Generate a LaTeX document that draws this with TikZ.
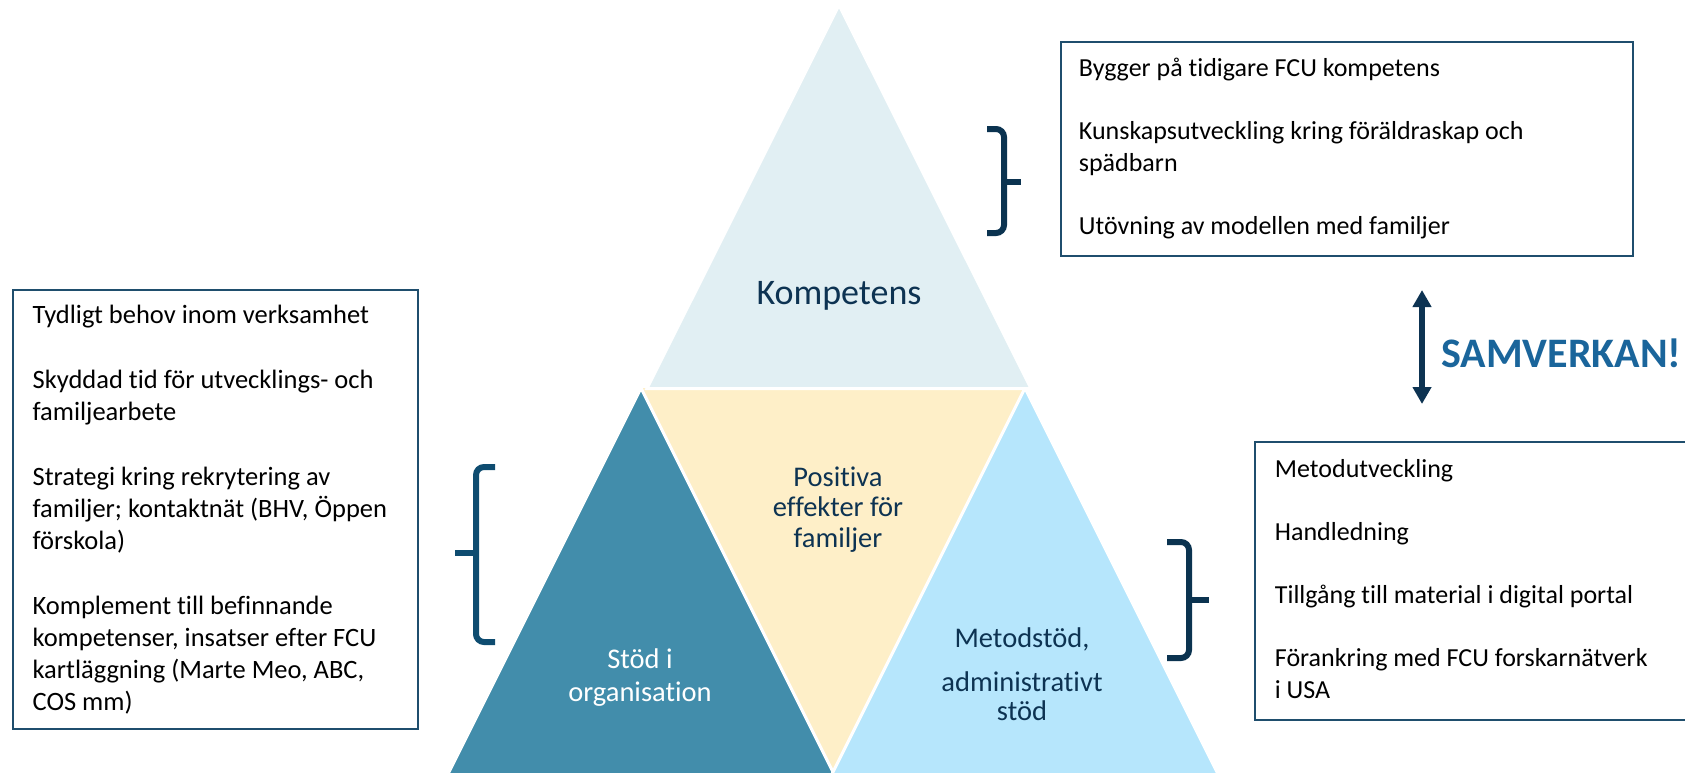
\documentclass[tikz,border=0pt]{standalone}
\usepackage{fontspec}
\setmainfont{Carlito}[Ligatures=NoCommon]
\usetikzlibrary{arrows.meta}
\definecolor{topfill}{HTML}{E1EFF3}
\definecolor{darkfill}{HTML}{428DAB}
\definecolor{yellowfill}{HTML}{FEEFC8}
\definecolor{lightfill}{HTML}{B6E6FC}
\definecolor{navy}{HTML}{0D3352}
\definecolor{boxblue}{HTML}{1F4E6D}
\definecolor{samblue}{HTML}{1A659B}
\definecolor{bracenavy}{HTML}{0B3350}
\definecolor{braceblue}{HTML}{0E4C70}
\newcommand\infotext[5]{\parbox[t][#2][t]{#1}{\leftskip=#3\relax\rightskip=0pt plus 1fil\relax\parindent=0pt\rule{0pt}{#4}#5}}
\begin{document}
\begin{tikzpicture}[x=1pt,y=-1pt,
  trifill/.style={draw=white,line width=3pt,line join=miter},
  infobox/.style={draw=boxblue,line width=1.8pt,inner sep=0pt,anchor=north west,text=black,font=\fontsize{26}{32}\selectfont},
  trilabel/.style={inner sep=0pt,align=center,font=\fontsize{28.5}{30.5}\selectfont},
  bracestyle/.style={line width=6pt,rounded corners=8pt},
]
\useasboundingbox (0,0) rectangle (1685,772);
\clip (0,0) rectangle (1685,772);
% triangles
\fill[yellowfill] (641,388) -- (1025,388) -- (833,772) -- cycle;
\filldraw[trifill,fill=darkfill] (641,388) -- (440,790) -- (842,790) -- cycle;
\filldraw[trifill,fill=lightfill] (1025,388) -- (824,790) -- (1226,790) -- cycle;
\filldraw[trifill,fill=topfill] (839,5) -- (647,388.5) -- (1031,388.5) -- cycle;
% triangle labels
\node[trilabel,anchor=base,text=navy,font=\fontsize{36}{40}\selectfont] (komp) at (839,304) {Kompetens};
\node[trilabel,anchor=north,text=navy] (pos) at (838,461) {\rule{0pt}{25pt}Positiva\\effekter för\\familjer};
\node[trilabel,anchor=north,text=white,font=\fontsize{28.5}{33}\selectfont] (stod) at (640,643) {\rule{0pt}{25pt}Stöd i\\organisation};
\node[trilabel,anchor=north,text=navy,font=\fontsize{28.5}{28.5}\selectfont] (metod) at (1022,622) {\rule{0pt}{25pt}Metodstöd,\\[16pt]administrativt\\stöd};
% boxes
\node[infobox] (boxtop) at (1060,41) {\infotext{572pt}{214pt}{18pt}{35pt}{Bygger på tidigare FCU kompetens\\[31pt]Kunskapsutveckling kring föräldraskap och\\spädbarn\\[31pt]Utövning av modellen med familjer}};
\node[infobox,font=\fontsize{26.5}{32}\selectfont] (boxleft) at (11.7,289) {\infotext{405pt}{439pt}{20pt}{34pt}{Tydligt behov inom verksamhet\\[33pt]Skyddad tid för utvecklings- och\\familjearbete\\[33pt]Strategi kring rekrytering av\\familjer; kontaktnät (BHV, Öppen\\förskola)\\[33pt]Komplement till befinnande\\kompetenser, insatser efter FCU\\kartläggning (Marte Meo, ABC,\\COS mm)}};
\node[infobox] (boxright) at (1254,441) {\infotext{450pt}{278pt}{20pt}{36pt}{Metodutveckling\\[31pt]Handledning\\[31pt]Tillgång till material i digital portal\\[31pt]Förankring med FCU forskarnätverk\\i USA}};
% braces
\draw[bracestyle,bracenavy] (987,129) -- (1004,129) -- (1004,233) -- (987,233);
\draw[line width=6pt,bracenavy] (1004,182) -- (1021,182);
\draw[bracestyle,braceblue] (495,467) -- (476,467) -- (476,642) -- (495,642);
\draw[line width=6pt,braceblue] (476,553) -- (455,553);
\draw[bracestyle,bracenavy] (1167,542) -- (1189,542) -- (1189,658) -- (1167,658);
\draw[line width=6pt,bracenavy] (1189,600) -- (1209,600);
% samverkan
\coordinate (arrtop) at (1422,290);
\coordinate (arrbot) at (1422,404);
\draw[line width=6pt,navy,{Triangle[width=18pt,length=17pt]}-{Triangle[width=18pt,length=17pt]}] (arrtop) -- (arrbot);
\node[inner sep=0pt,anchor=base west,text=samblue,font=\fontsize{42}{46}\selectfont\bfseries] (sam) at (1441,367) {SAMVERKAN!};
\end{tikzpicture}
\end{document}
